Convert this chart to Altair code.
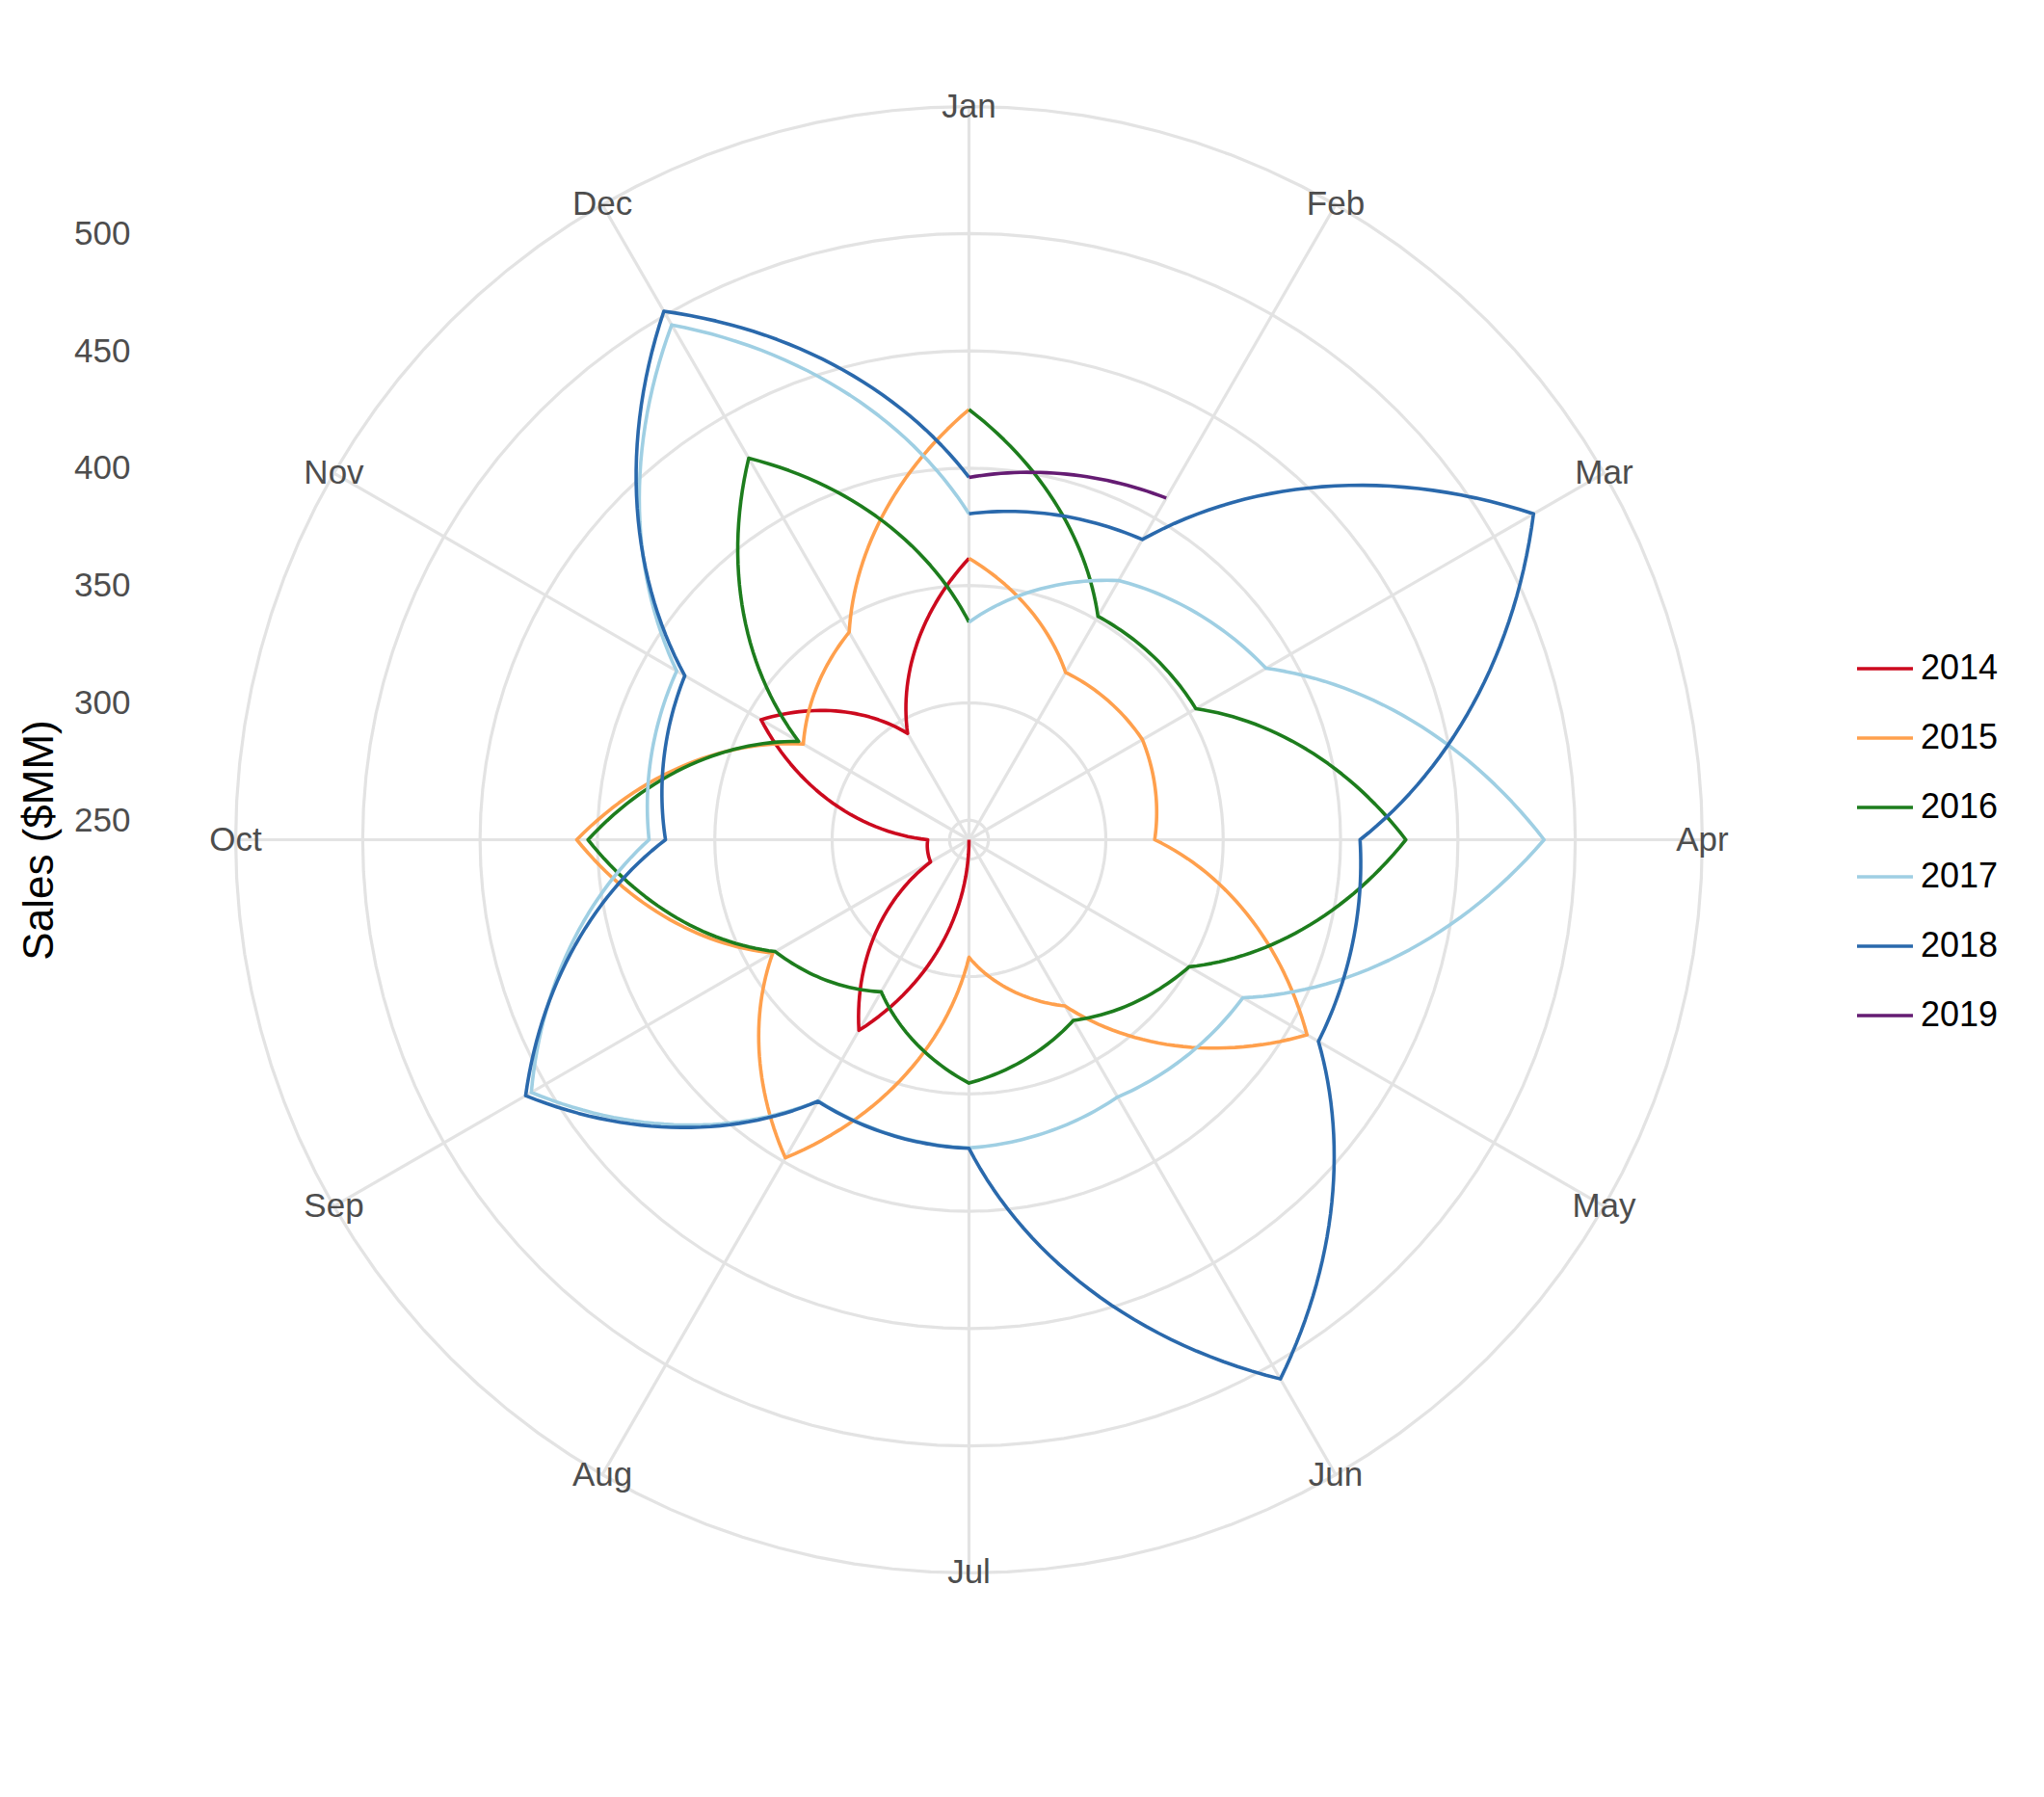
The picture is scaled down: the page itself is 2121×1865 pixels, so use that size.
import altair as alt
import pandas as pd

# ---------------- data ----------------
MONTHS = ["Jan", "Feb", "Mar", "Apr", "May", "Jun",
          "Jul", "Aug", "Sep", "Oct", "Nov", "Dec"]
YEARS = ["2014", "2015", "2016", "2017", "2018", "2019"]
START_MONTH = [6, 0, 0, 0, 0, 0]          # 2014 starts in Jul
SALES_2014 = [241.7, 335.5, 260.6, 259.3, 344.0, 294.0]                     # Jul-Dec
SALES_2015 = [361.6, 324.0, 327.0, 320.8, 408.0, 323.5, 291.8, 398.2, 338.2, 408.8, 323.2, 343.8]
SALES_2016 = [425.0, 351.6, 353.3, 427.8, 350.0, 330.6, 345.4, 316.5, 337.0, 404.0, 325.5, 429.4]
SALES_2017 = [334.4, 369.2, 387.8, 486.7, 376.4, 368.3, 373.0, 370.2, 457.0, 378.0, 385.5, 495.0]
SALES_2018 = [380.6, 389.4, 519.4, 408.3, 413.6, 507.0, 373.2, 370.4, 459.8, 371.0, 381.5, 501.7]
SALES_2019 = [396.1, 409.8]                                                  # Jan-Feb
SERIES = [SALES_2014, SALES_2015, SALES_2016, SALES_2017, SALES_2018, SALES_2019]
TICKS = [250, 300, 350, 400, 450, 500]
COLORS = ["#CC0A1E", "#FFA04D", "#1D7D1D", "#9FCFE3", "#2A69AC", "#651C73"]

FONT = "Liberation Sans"

# ---------------- tables built from the arrays ----------------
all_vals = [v for s in SERIES for v in s]
VMIN, VMAX = min(all_vals), max(all_vals)
SPAN = VMAX - VMIN
R = 1.25 * SPAN          # half of the square panel (r max = 0.4 of panel)
R_OUT = 1.125 * SPAN     # outer circle / month labels (0.45 of panel)

rows = []
k = 0
for yi, (yr, vals) in enumerate(zip(YEARS, SERIES)):
    pts = [(START_MONTH[yi] + j, v) for j, v in enumerate(vals)]
    # the segment from Dec to the next Jan keeps the colour of the earlier year
    if yi + 1 < len(YEARS):
        pts.append((12, SERIES[yi + 1][0]))
    for j, (m, v) in enumerate(pts):
        if j + 1 < len(pts):
            nm, nv = pts[j + 1]
        else:
            nm, nv = m, v
        rows.append({"series": yr, "k": k + j, "m": m, "v": v, "nm": nm, "nv": nv})
    k += len(pts)
line_df = pd.DataFrame(rows)

grid_df = pd.DataFrame({"gid": list(range(len(TICKS) + 1)),
                        "r": [t - VMIN for t in TICKS] + [R_OUT]})
month_df = pd.DataFrame({"month": MONTHS, "idx": list(range(12))})

# ---------------- encodings ----------------
xs = alt.Scale(domain=[-R, R], nice=False, zero=False)
ys = alt.Scale(domain=[-R, R], nice=False, zero=False)
X = alt.X("px:Q", scale=xs, axis=None)
Y = alt.Y(
    "py:Q", scale=ys,
    axis=alt.Axis(
        values=[t - VMIN for t in TICKS],
        labelExpr=f"format(datum.value + {VMIN}, 'd')",
        grid=False, domain=False, ticks=False, tickSize=0,
        labelPadding=25, labelFontSize=35, labelColor="#4D4D4D", labelFont=FONT,
        title="Sales ($MM)", titleFontSize=44, titleFontWeight="normal",
        titleColor="black", titleFont=FONT, titleAngle=270,
        titleX=-119, titleY=845.5, titleAlign="center", titleBaseline="middle",
    ),
)

GRID_COLOR = "#E3E3E3"

circles = (
    alt.Chart(grid_df)
    .transform_calculate(angs="sequence(0, 2 * PI + 0.001, PI / 60)")
    .transform_flatten(["angs"], as_=["a"])
    .transform_calculate(px="datum.r * sin(datum.a)", py="datum.r * cos(datum.a)")
    .mark_line(color=GRID_COLOR, strokeWidth=3.2)
    .encode(x=X, y=Y, detail="gid:N", order="a:Q")
)

spokes = (
    alt.Chart(month_df)
    .transform_calculate(
        px=f"{R_OUT} * sin(datum.idx * PI / 6)",
        py=f"{R_OUT} * cos(datum.idx * PI / 6)",
        cx="0", cy="0",
    )
    .mark_rule(color=GRID_COLOR, strokeWidth=3.2)
    .encode(x=X, y=Y, x2="cx:Q", y2="cy:Q")
)

labels = (
    alt.Chart(month_df)
    .transform_calculate(
        px=f"{R_OUT} * sin(datum.idx * PI / 6)",
        py=f"{R_OUT} * cos(datum.idx * PI / 6)",
    )
    .mark_text(font=FONT, fontSize=35, color="#4D4D4D", align="center", baseline="middle")
    .encode(x=X, y=Y, text="month:N")
)

lines = (
    alt.Chart(line_df)
    .transform_calculate(ts="sequence(0, 1.000001, 1 / 30)")
    .transform_flatten(["ts"], as_=["t"])
    .transform_calculate(
        rr=f"datum.v + datum.t * (datum.nv - datum.v) - {VMIN}",
        th="(datum.m + datum.t * (datum.nm - datum.m)) * PI / 6",
        ord="datum.k + datum.t",
    )
    .transform_calculate(px="datum.rr * sin(datum.th)", py="datum.rr * cos(datum.th)")
    .mark_line(strokeWidth=3.6, strokeJoin="round")
    .encode(
        x=X, y=Y,
        order="ord:Q",
        color=alt.Color(
            "series:N",
            scale=alt.Scale(domain=YEARS, range=COLORS),
            legend=alt.Legend(
                title=None, orient="none", legendX=1765, legendY=637,
                symbolType="stroke", symbolSize=3364, symbolStrokeWidth=3.6,
                labelFontSize=36, labelColor="black", labelFont=FONT,
                labelOffset=6, rowPadding=23, padding=0,
            ),
        ),
    )
)

chart = (
    alt.layer(circles, spokes, labels, lines)
    .properties(
        width=1691, height=1691,
        autosize=alt.AutoSizeParams(type="none"),
        padding={"left": 160, "top": 26, "right": 270, "bottom": 148},
        background="white",
    )
    .configure_view(stroke="transparent")
)

chart.save("out.html", embed_options={"renderer": "svg", "actions": False})
